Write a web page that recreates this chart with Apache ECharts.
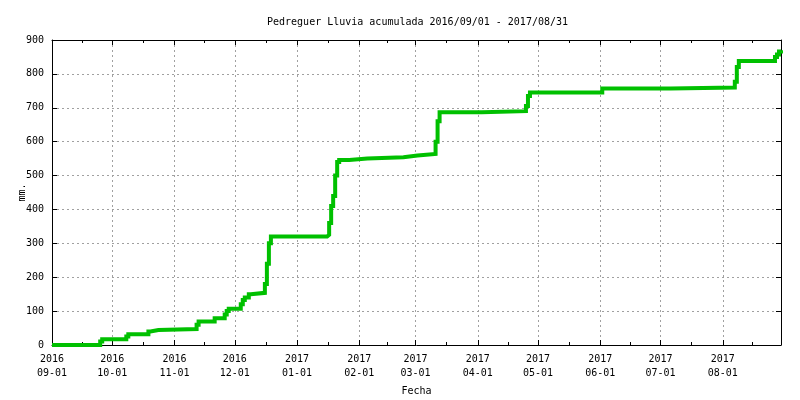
<!DOCTYPE html>
<html><head><meta charset="utf-8">
<script src="https://cdn.jsdelivr.net/npm/echarts@6/dist/echarts.min.js"></script>
<style>html,body{margin:0;padding:0;background:#fff}#c{width:800px;height:400px}</style>
</head><body><div id="c"></div>
<script>
const chartTitle = 'Pedreguer Lluvia acumulada 2016/09/01 - 2017/08/31';
const xName = 'Fecha';
const yName = 'mm.';
const dates = [
  '2016-09-01','2016-09-25','2016-09-26','2016-10-08','2016-10-09','2016-10-19','2016-10-20','2016-10-24',
  '2016-11-12','2016-11-13','2016-11-21','2016-11-26','2016-11-27','2016-11-28',
  '2016-12-04','2016-12-05','2016-12-06','2016-12-08','2016-12-09',
  '2016-12-16','2016-12-17','2016-12-18','2016-12-19',
  '2017-01-16','2017-01-17','2017-01-18','2017-01-19','2017-01-20','2017-01-21','2017-01-22',
  '2017-01-27','2017-02-05','2017-02-23','2017-03-02',
  '2017-03-11','2017-03-12','2017-03-13','2017-04-03',
  '2017-04-25','2017-04-26','2017-04-27','2017-06-02','2017-07-06',
  '2017-08-07','2017-08-08','2017-08-09','2017-08-27','2017-08-28','2017-08-29','2017-08-30'
];
const values = [
  0,10,17,25,32,40,44,47,
  60,69,79,90,100,107,
  120,133,140,150,154,
  180,240,300,320,
  325,360,410,440,500,540,546,
  550,554,559,564,
  600,660,687,690,
  705,735,745,757,760,
  777,820,838,850,857,866,870
];
const yMin = 0, yMax = 900, yStep = 100;
const xMin = '2016-09-01', xMax = '2017-08-30';

const font = 'DejaVu Sans Mono';
const chart = echarts.init(document.getElementById('c'), null, {renderer:'canvas'});
const fmt = v => echarts.time.format(v, '{yyyy}\n{MM}-{dd}', false);
const DAY = 86400000;
const gridLine = {show:true, lineStyle:{color:'#a0a0a0', type:[2,3], width:1}};
chart.setOption({
  animation:false,
  backgroundColor:'#fff',
  title:{text:chartTitle, left:262, top:12, textStyle:{fontFamily:font, fontSize:10, fontWeight:'normal', color:'#000'}},
  grid:{left:52, right:19, top:40, bottom:55, containLabel:false, outerBoundsMode:'none'},
  xAxis:[{
    type:'time', min:xMin, max:xMax, minInterval:28*DAY, maxInterval:31*DAY,
    name:xName, nameLocation:'middle', nameGap:41, nameMoveOverlap:false,
    nameTextStyle:{fontFamily:font, fontSize:10, color:'#000'},
    axisLine:{show:true, lineStyle:{color:'#000', width:1}},
    axisTick:{show:true, inside:true, length:5, lineStyle:{color:'#000'}},
    minorTick:{show:true, splitNumber:2, length:3, lineStyle:{color:'#000'}},
    axisLabel:{formatter:fmt, fontFamily:font, fontSize:10, color:'#000', margin:7, lineHeight:14, showMinLabel:true, showMaxLabel:false, hideOverlap:false},
    splitLine:gridLine
  },{
    type:'time', position:'top', min:xMin, max:xMax, minInterval:28*DAY, maxInterval:31*DAY,
    axisLine:{show:true, onZero:false, lineStyle:{color:'#000', width:1}},
    axisTick:{show:true, inside:true, length:5, lineStyle:{color:'#000'}},
    minorTick:{show:true, splitNumber:2, length:3, lineStyle:{color:'#000'}},
    axisLabel:{show:false}, splitLine:{show:false}
  }],
  yAxis:[{
    type:'value', min:yMin, max:yMax, interval:yStep,
    name:yName, nameLocation:'middle', nameGap:25, nameMoveOverlap:false,
    nameTextStyle:{fontFamily:font, fontSize:10, color:'#000'},
    axisLine:{show:true, lineStyle:{color:'#000', width:1}},
    axisTick:{show:true, inside:true, length:5, lineStyle:{color:'#000'}},
    axisLabel:{fontFamily:font, fontSize:10, color:'#000', margin:8},
    splitLine:gridLine
  },{
    type:'value', position:'right', min:yMin, max:yMax, interval:yStep,
    axisLine:{show:true, onZero:false, lineStyle:{color:'#000', width:1}},
    axisTick:{show:true, inside:true, length:5, lineStyle:{color:'#000'}},
    axisLabel:{show:false}, splitLine:{show:false}
  }],
  series:[{
    type:'line', step:'end', showSymbol:false, xAxisIndex:0, yAxisIndex:0,
    lineStyle:{color:'#00c000', width:4, cap:'butt', join:'miter'}, itemStyle:{color:'#00c000'},
    data:dates.map((d,i)=>[d, values[i]])
  }]
});
</script></body></html>
